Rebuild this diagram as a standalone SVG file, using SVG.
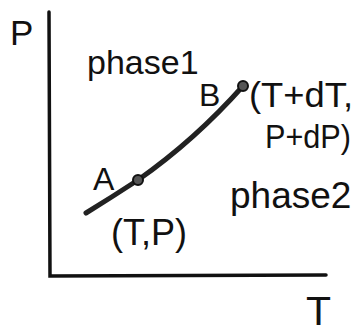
<svg xmlns="http://www.w3.org/2000/svg" width="361" height="335" viewBox="0 0 361 335">
<style>
.t{font-family:"Liberation Sans",Arial,sans-serif;fill:#111}
.ax{stroke:#111;stroke-width:3.5;fill:none;stroke-linecap:round}
.cv{stroke:#222;stroke-width:5;fill:none;stroke-linecap:round}
.dot{fill:#555;stroke:#111;stroke-width:2}
</style>
<rect width="361" height="335" fill="#fff"/>
<g id="axes">
<path class="ax" d="M49,12 L50,276 L326,275"/>
</g>
<g id="axis-labels">
<text class="t" x="10" y="45" font-size="35">P</text>
<text class="t" x="306" y="325" font-size="41">T</text>
</g>
<g id="connectors">
<path class="cv" d="M86,213 Q112,197 138,180 Q195,140 243,86"/>
</g>
<g id="nodeA">
<circle class="dot" cx="138" cy="180" r="5"/>
<text class="t" x="93" y="190" font-size="32">A</text>
<text class="t" x="111" y="245" font-size="36">(T,P)</text>
</g>
<g id="nodeB">
<circle class="dot" cx="243" cy="86" r="5"/>
<text class="t" x="199" y="106" font-size="32">B</text>
<text class="t" x="249" y="107" font-size="35" textLength="104" lengthAdjust="spacingAndGlyphs">(T+dT,</text>
<text class="t" x="265" y="148" font-size="34" textLength="86" lengthAdjust="spacingAndGlyphs">P+dP)</text>
</g>
<g id="phase1">
<text class="t" x="87" y="74" font-size="34">phase1</text>
</g>
<g id="phase2">
<text class="t" x="230" y="208" font-size="37">phase2</text>
</g>
</svg>
